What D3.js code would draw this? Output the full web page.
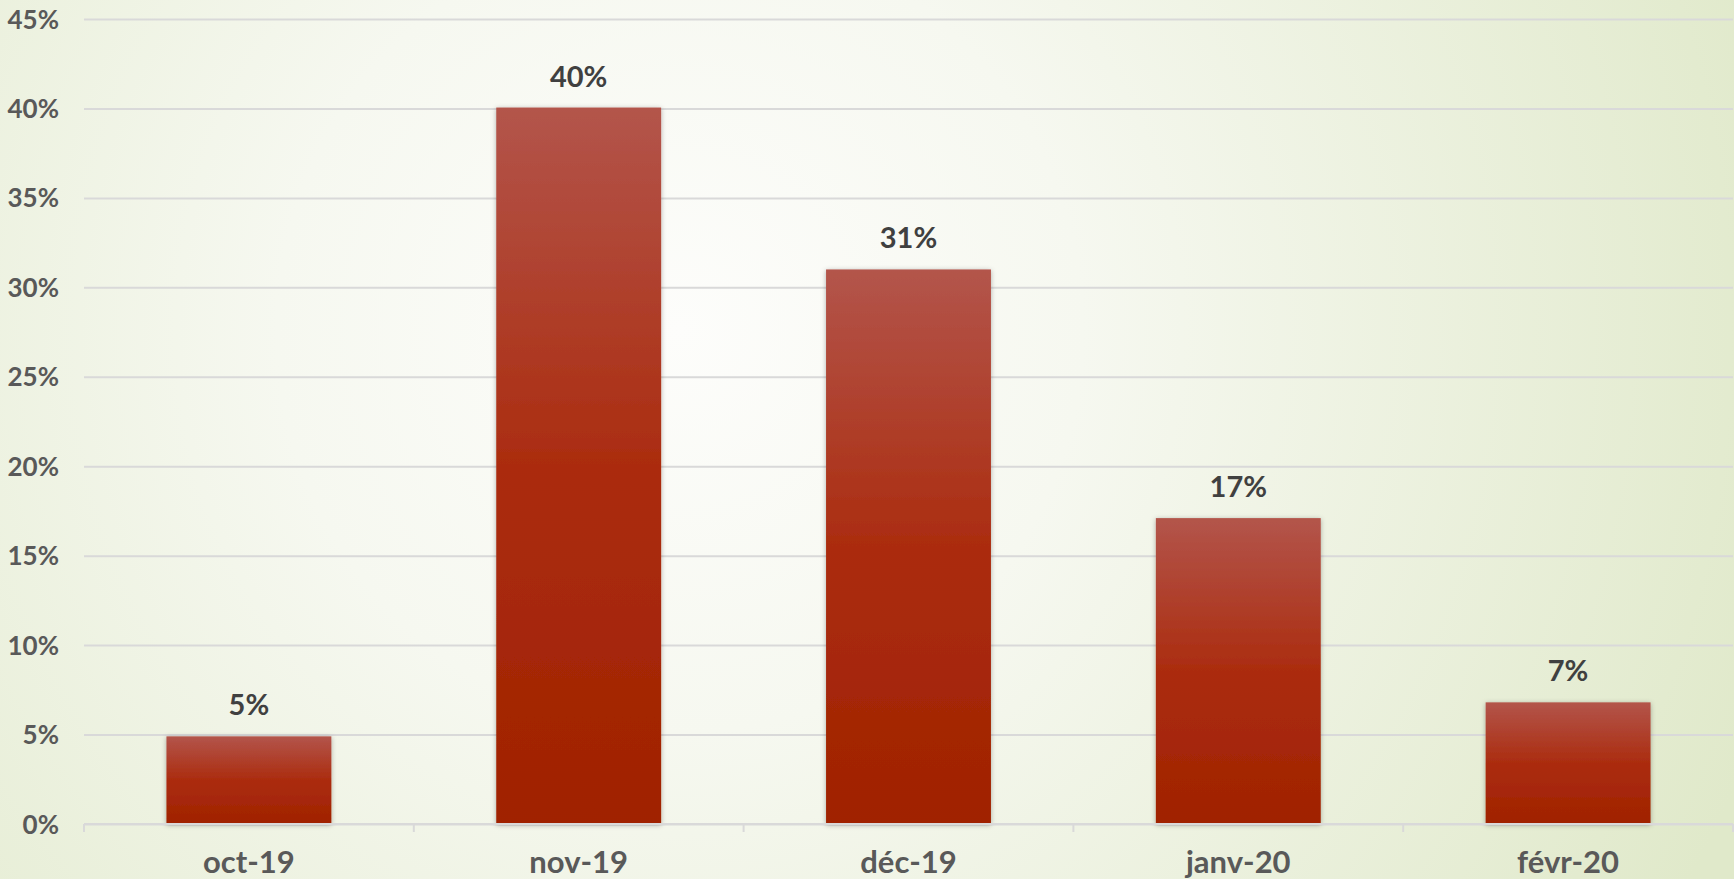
<!DOCTYPE html>
<html>
<head>
<meta charset="utf-8">
<script src="https://cdn.jsdelivr.net/npm/d3@7"></script>
<style>
  html, body { margin: 0; padding: 0; overflow: hidden; }
  body { width: 1734px; height: 879px; }
  text { font-family: "Lato", "Open Sans", sans-serif; font-weight: bold; }
</style>
</head>
<body>
<div id="chart"></div>
<script>
// data
var months = ["oct-19", "nov-19", "déc-19", "janv-20", "févr-20"];
var shares = [4.9, 40.05, 31.0, 17.1, 6.8];
var shareLabels = ["5%", "40%", "31%", "17%", "7%"];
var yTicks = [0, 5, 10, 15, 20, 25, 30, 35, 40, 45];

var W = 1734, H = 879;
var margin = {top: 19, right: 1, bottom: 55, left: 84};
var width = W - margin.left - margin.right,
    height = H - margin.top - margin.bottom;

var svg = d3.select("#chart").append("svg")
    .attr("width", W)
    .attr("height", H);

var defs = svg.append("defs");

// background: soft radial wash, white in the middle, pale green at the edges
var bg = defs.append("radialGradient")
    .attr("id", "bg")
    .attr("gradientUnits", "userSpaceOnUse")
    .attr("cx", 680).attr("cy", 330).attr("r", 1150);
bg.append("stop").attr("offset", "0%").attr("stop-color", "#fdfdfb");
bg.append("stop").attr("offset", "35%").attr("stop-color", "#f6f8f0");
bg.append("stop").attr("offset", "100%").attr("stop-color", "#e0e9ca");

// bar fill: lighter brick at top, deep rust at bottom
var barGrad = defs.append("linearGradient")
    .attr("id", "barGrad")
    .attr("x1", 0).attr("y1", 0).attr("x2", 0).attr("y2", 1);
barGrad.append("stop").attr("offset", "0%").attr("stop-color", "#b3554b");
barGrad.append("stop").attr("offset", "50%").attr("stop-color", "#ab2c0f");
barGrad.append("stop").attr("offset", "100%").attr("stop-color", "#a02200");

var shadow = defs.append("filter").attr("id", "shadow")
    .attr("x", "-10%").attr("y", "-10%").attr("width", "120%").attr("height", "120%");
shadow.append("feDropShadow")
    .attr("dx", 0).attr("dy", 1).attr("stdDeviation", 2.5)
    .attr("flood-color", "#000").attr("flood-opacity", 0.3);

svg.append("rect")
    .attr("width", W).attr("height", H)
    .attr("fill", "url(#bg)");

var g = svg.append("g")
    .attr("transform", "translate(" + margin.left + "," + margin.top + ")");

var x = d3.scaleBand()
    .domain(months)
    .range([0, width])
    .paddingInner(0.5)
    .paddingOuter(0.25);

var y = d3.scaleLinear()
    .domain([0, 45])
    .range([height, 0]);

// gridlines + y labels
var yAxis = g.append("g")
    .attr("class", "y axis")
    .call(d3.axisLeft(y)
        .tickValues(yTicks)
        .tickSize(-width)
        .tickPadding(25)
        .tickFormat(function(d) { return d + "%"; }));
yAxis.select(".domain").remove();
yAxis.selectAll(".tick line")
    .attr("stroke", "#d9d9d9")
    .attr("stroke-width", 2);
yAxis.selectAll(".tick text")
    .attr("fill", "#595959")
    .attr("font-size", "26px")
    .attr("dy", "0.35em");

// bars
g.selectAll(".bar")
    .data(shares)
    .enter().append("rect")
    .attr("class", "bar")
    .attr("x", function(d, i) { return x(months[i]); })
    .attr("y", function(d) { return y(d); })
    .attr("width", x.bandwidth())
    .attr("height", function(d) { return height - y(d); })
    .attr("fill", "url(#barGrad)")
    .attr("filter", "url(#shadow)");

// value labels
g.selectAll(".val")
    .data(shares)
    .enter().append("text")
    .attr("class", "val")
    .attr("x", function(d, i) { return x(months[i]) + x.bandwidth() / 2; })
    .attr("y", function(d) { return y(d) - 21; })
    .attr("text-anchor", "middle")
    .attr("fill", "#404040")
    .attr("font-size", "29px")
    .text(function(d, i) { return shareLabels[i]; });

// category axis: base line with ticks at the band edges
var xAxis = g.append("g")
    .attr("class", "x axis")
    .attr("transform", "translate(0," + height + ")");
xAxis.append("line")
    .attr("x1", 0).attr("x2", width)
    .attr("stroke", "#d9d9d9").attr("stroke-width", 2);
var edges = d3.range(months.length + 1).map(function(i) { return i * width / months.length; });
xAxis.selectAll(".edge")
    .data(edges)
    .enter().append("line")
    .attr("class", "edge")
    .attr("x1", function(d) { return d; }).attr("x2", function(d) { return d; })
    .attr("y1", 0).attr("y2", 8)
    .attr("stroke", "#d9d9d9").attr("stroke-width", 2);
xAxis.selectAll(".cat")
    .data(months)
    .enter().append("text")
    .attr("class", "cat")
    .attr("x", function(d) { return x(d) + x.bandwidth() / 2; })
    .attr("y", 49)
    .attr("text-anchor", "middle")
    .attr("fill", "#595959")
    .attr("font-size", "31px")
    .text(function(d) { return d; });
</script>
</body>
</html>
